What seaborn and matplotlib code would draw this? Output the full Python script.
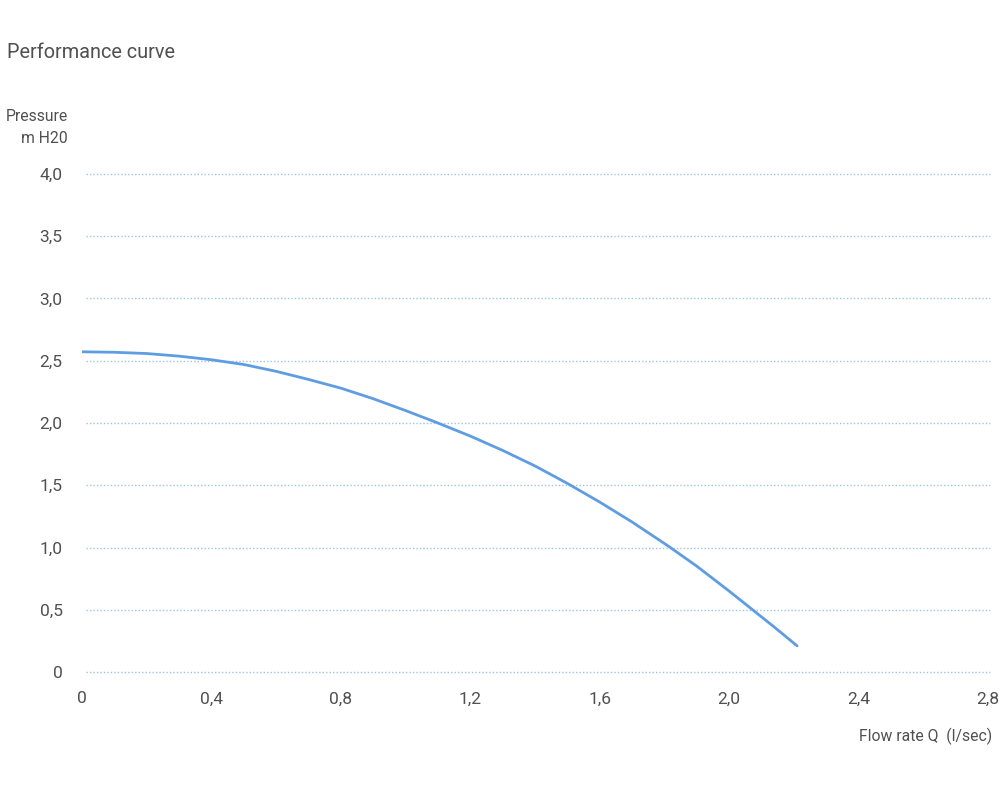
import numpy as np
import pandas as pd
import matplotlib
matplotlib.use("Agg")
import matplotlib.pyplot as plt
import seaborn as sns

# Values
flow = [0.0, 0.1, 0.2, 0.3, 0.4, 0.5, 0.6, 0.7, 0.8, 0.9, 1.0, 1.1, 1.2, 1.3,
        1.4, 1.5, 1.6, 1.7, 1.81, 1.9, 2.0, 2.07, 2.14, 2.21]
pressure = [2.572, 2.568, 2.558, 2.537, 2.508, 2.47, 2.415, 2.35, 2.28, 2.195, 2.10, 2.00, 1.895, 1.78,
            1.655, 1.515, 1.365, 1.205, 1.015, 0.85, 0.65, 0.505, 0.36, 0.21]

x_ticks = [0, 0.4, 0.8, 1.2, 1.6, 2.0, 2.4, 2.8]
x_labels = ["0", "0,4", "0,8", "1,2", "1,6", "2,0", "2,4", "2,8"]
y_ticks = [0, 0.5, 1.0, 1.5, 2.0, 2.5, 3.0, 3.5, 4.0]
y_labels = ["0", "0,5", "1,0", "1,5", "2,0", "2,5", "3,0", "3,5", "4,0"]

TEXT = "#505050"
LINE = "#5e9de2"
GRID = "#9fc4e0"


def main():
    sns.set_style("white")
    plt.rcParams['font.family'] = ['Roboto', 'DejaVu Sans']

    df = pd.DataFrame({"flow": flow, "pressure": pressure})

    fig = plt.figure(figsize=(10, 8), dpi=100)
    ax = fig.add_axes([0.082, 0.16, 0.906, 0.6225])

    # dotted horizontal guides
    for y in y_ticks:
        ax.axhline(y, xmin=0.004, xmax=1.002, color=GRID, linestyle=(0, (1, 1.5)),
                   linewidth=1.0, clip_on=False, zorder=1)

    sns.lineplot(data=df, x="flow", y="pressure", ax=ax, color=LINE,
                 linewidth=2.0, zorder=3)

    ax.set_xlim(0, 2.8)
    ax.set_ylim(0, 4.0)
    ax.set_xticks(x_ticks)
    ax.set_xticklabels(x_labels)
    ax.set_yticks(y_ticks)
    ax.set_yticklabels(y_labels)
    ax.tick_params(axis="both", length=0, labelsize=12.5, colors=TEXT)
    ax.tick_params(axis="x", pad=14)
    ax.tick_params(axis="y", pad=14)
    ax.set_xlabel("")
    ax.set_ylabel("")
    sns.despine(ax=ax, left=True, bottom=True)

    fig.text(0.007, 0.935, "Performance curve", fontsize=14.3, color=TEXT,
             ha="left", va="center")
    fig.text(0.068, 0.854, "Pressure", fontsize=11.3, color=TEXT, ha="right", va="center")
    fig.text(0.068, 0.827, "m H20", fontsize=11.3, color=TEXT, ha="right", va="center")
    fig.text(0.992, 0.079, "Flow rate Q  (l/sec)", fontsize=11.3, color=TEXT,
             ha="right", va="center")

    fig.savefig("out.png", dpi=100, facecolor="white")
    plt.close(fig)


if __name__ == "__main__":
    main()
